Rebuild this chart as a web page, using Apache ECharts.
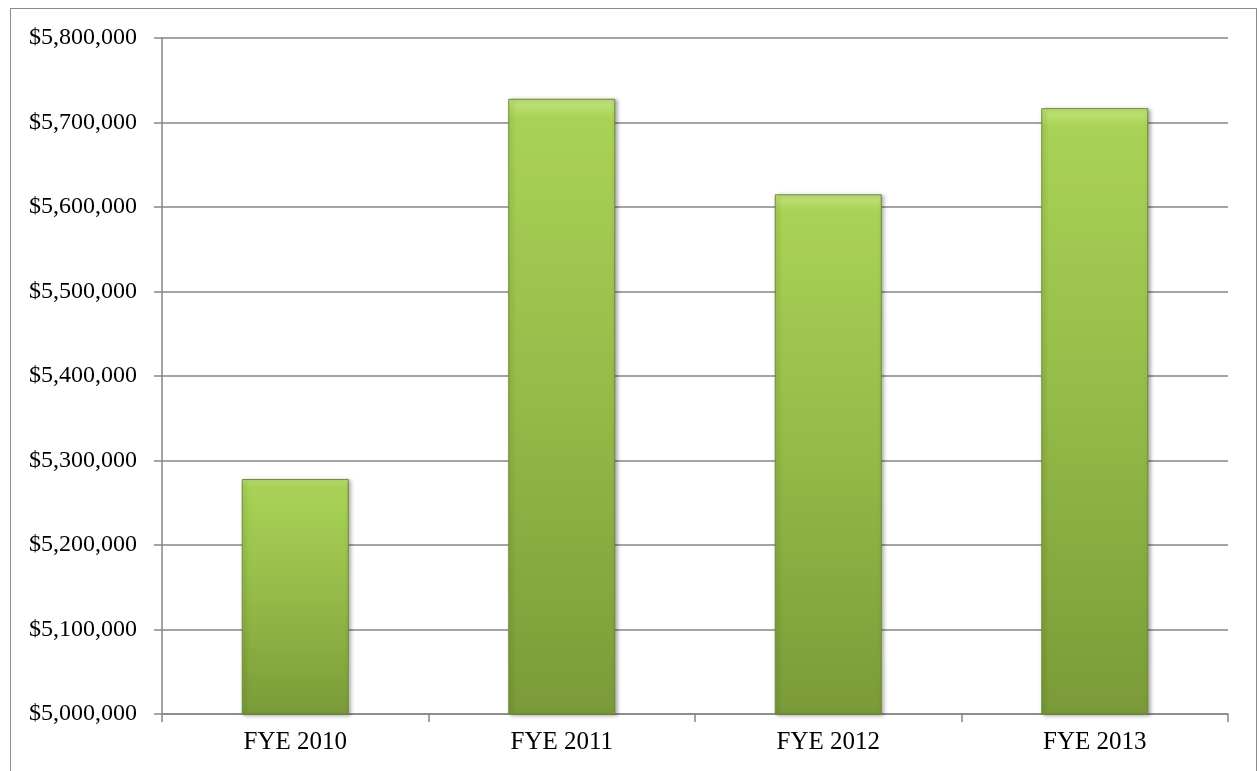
<!DOCTYPE html>
<html>
<head>
<meta charset="utf-8">
<script src="https://cdn.jsdelivr.net/npm/echarts@6/dist/echarts.min.js"></script>
<style>
  html, body { margin: 0; padding: 0; background: #fff; }
  /* outer chart frame */
  .frame {
    position: absolute;
    left: 10px;
    top: 8px;
    width: 1247px;
    height: 800px;
    border: 1.5px solid #8c8c8c;
    box-sizing: border-box;
  }
  #chart { position: absolute; left: 0; top: 0; width: 1259px; height: 771px; }
</style>
</head>
<body>
<div class="frame"></div>
<div id="chart"></div>
<script>
  const categories = ['FYE 2010', 'FYE 2011', 'FYE 2012', 'FYE 2013']
  const values = [5278000, 5728000, 5615000, 5717000]
  const yMin = 5000000
  const yMax = 5800000
  const yStep = 100000

  const myChart = echarts.init(document.getElementById('chart'))

  const fmt = function (v) {
    return '$' + v.toLocaleString('en-US')
  }

  const option = {
    animation: false,
    grid: {
      left: 162,
      right: 31,
      top: 38,
      bottom: 57,
    },
    xAxis: {
      type: 'category',
      data: categories,
      axisLine: { show: true, lineStyle: { color: '#868686', width: 1.5 } },
      axisTick: { show: true, length: 8, lineStyle: { color: '#868686', width: 1.5 } },
      axisLabel: {
        color: '#000',
        fontFamily: 'Liberation Serif',
        fontSize: 25,
        margin: 16,
      },
    },
    yAxis: {
      type: 'value',
      min: yMin,
      max: yMax,
      interval: yStep,
      axisLine: { show: true, lineStyle: { color: '#868686', width: 1.5 } },
      axisTick: { show: true, length: 8, lineStyle: { color: '#868686', width: 1.5 } },
      axisLabel: {
        color: '#000',
        fontFamily: 'Liberation Serif',
        fontSize: 24,
        margin: 25,
        formatter: fmt,
      },
      splitLine: { show: true, lineStyle: { color: '#868686', width: 1.5 } },
    },
    series: [
      {
        type: 'bar',
        data: values,
        barWidth: 107,
        itemStyle: {
          color: new echarts.graphic.LinearGradient(0, 0, 0, 1, [
            { offset: 0, color: '#c4e67e' },
            { offset: 0.03, color: '#a9d356' },
            { offset: 0.5, color: '#94ba48' },
            { offset: 1, color: '#7a9b38' },
          ]),
          borderColor: '#6f8d33',
          borderWidth: 1,
          shadowColor: 'rgba(0,0,0,0.35)',
          shadowBlur: 4,
          shadowOffsetX: 2,
          shadowOffsetY: 1,
        },
      },
    ],
  }

  myChart.setOption(option)
</script>
</body>
</html>
